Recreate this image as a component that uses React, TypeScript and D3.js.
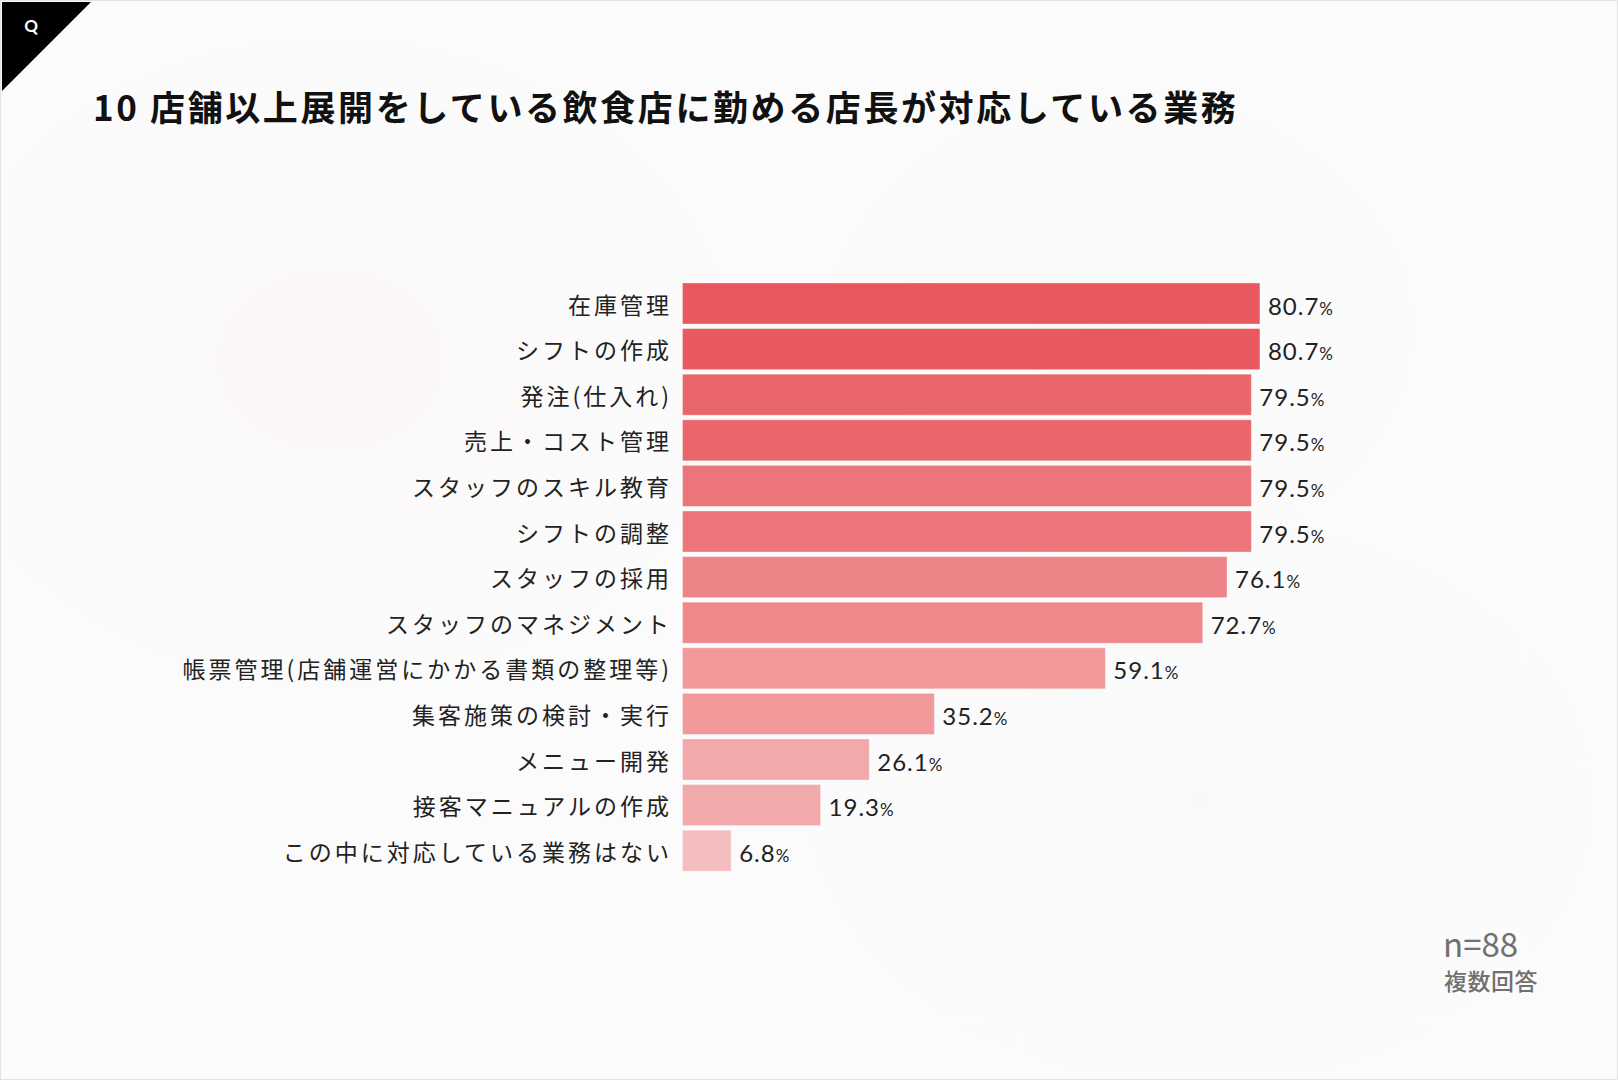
import React from "react";
import * as d3 from "d3";

const TITLE = "10 店舗以上展開をしている飲食店に勤める店長が対応している業務";

const categories = [
  "在庫管理",
  "シフトの作成",
  "発注(仕入れ)",
  "売上・コスト管理",
  "スタッフのスキル教育",
  "シフトの調整",
  "スタッフの採用",
  "スタッフのマネジメント",
  "帳票管理(店舗運営にかかる書類の整理等)",
  "集客施策の検討・実行",
  "メニュー開発",
  "接客マニュアルの作成",
  "この中に対応している業務はない",
];

const values = [80.7, 80.7, 79.5, 79.5, 79.5, 79.5, 76.1, 72.7, 59.1, 35.2, 26.1, 19.3, 6.8];

const barColors = [
  "#e8585e", "#e8585e", "#e9676b", "#e9676b", "#eb7579", "#eb7579",
  "#ed8488", "#ee888a", "#f0989a", "#f0989a", "#f2a9ab", "#f2a9ab", "#f4bdbf",
];

const W = 1618;
const H = 1080;
const JP = "'Noto Sans CJK JP', 'Noto Sans', sans-serif";
const NUM = "Lato, 'Noto Sans', sans-serif";

export default function App() {
  const x = d3.scaleLinear().domain([0, 100]).range([682.5, 1398]);
  const y = d3
    .scaleBand<string>()
    .domain(categories)
    .range([280.7, 873.5])
    .paddingInner(0.1)
    .paddingOuter(0.05);

  return (
    <div style={{ position: "absolute", left: 0, top: 0 }}>
      <svg width={W} height={H} style={{ display: "block" }}>
        <defs>
          <radialGradient id="blobPink" cx="0.5" cy="0.5" r="0.5">
            <stop offset="0%" stopColor="#fcf3f3" stopOpacity={0.7} />
            <stop offset="100%" stopColor="#fbfbfb" stopOpacity={0} />
          </radialGradient>
          <radialGradient id="blobGreen" cx="0.5" cy="0.5" r="0.5">
            <stop offset="0%" stopColor="#f5f9f4" stopOpacity={0.7} />
            <stop offset="100%" stopColor="#fbfbfb" stopOpacity={0} />
          </radialGradient>
          <radialGradient id="blobBlue" cx="0.5" cy="0.5" r="0.5">
            <stop offset="0%" stopColor="#f5f8fa" stopOpacity={0.7} />
            <stop offset="100%" stopColor="#fbfbfb" stopOpacity={0} />
          </radialGradient>
        </defs>

        {/* background */}
        <rect x={0} y={0} width={W} height={H} fill="#fbfbfb" />
        <ellipse cx={330} cy={360} rx={420} ry={340} fill="url(#blobPink)" />
        <ellipse cx={1120} cy={330} rx={320} ry={260} fill="url(#blobGreen)" />
        <ellipse cx={1200} cy={800} rx={420} ry={300} fill="url(#blobBlue)" />
        <rect x={0.5} y={0.5} width={W - 1} height={H - 1} fill="none" stroke="#e2e2e2" />

        {/* corner mark */}
        <polygon points="2,2 91,2 2,91" fill="#000" />
        <text x={31} y={32} textAnchor="middle" fontFamily={NUM} fontWeight={700} fontSize={17} fill="#fff">
          Q
        </text>

        {/* title */}
        <text
          x={93}
          y={121}
          fontFamily={JP}
          fontWeight={700}
          fontSize={35}
          letterSpacing={2.6}
          fill="#111"
        >
          {TITLE}
        </text>

        {/* bars */}
        <g>
          {categories.map((c, i) => (
            <rect
              key={c}
              x={x(0)}
              y={y(c)}
              width={x(values[i]) - x(0)}
              height={y.bandwidth()}
              fill={barColors[i]}
              stroke="#fff"
              strokeOpacity={0.35}
              strokeWidth={1}
            />
          ))}
        </g>

        {/* category labels */}
        <g>
          {categories.map((c) => (
            <text
              key={c}
              x={672}
              y={(y(c) ?? 0) + y.bandwidth() / 2 + 10}
              textAnchor="end"
              fontFamily={JP}
              fontSize={23}
              letterSpacing={3}
              fill="#222"
            >
              {c}
            </text>
          ))}
        </g>

        {/* value labels */}
        <g>
          {categories.map((c, i) => (
            <text
              key={c}
              x={x(values[i]) + 8}
              y={(y(c) ?? 0) + y.bandwidth() / 2 + 11}
              fontFamily={NUM}
              fontSize={24}
              letterSpacing={1}
              fill="#222"
            >
              {values[i].toFixed(1)}
              <tspan fontSize={17}>%</tspan>
            </text>
          ))}
        </g>

        {/* note */}
        <text x={1443} y={957} fontFamily={JP} fontSize={33} fill="#707070">
          n=88
        </text>
        <text x={1444} y={990} fontFamily={JP} fontWeight={500} fontSize={23} letterSpacing={0.5} fill="#707070">
          複数回答
        </text>
      </svg>
    </div>
  );
}
